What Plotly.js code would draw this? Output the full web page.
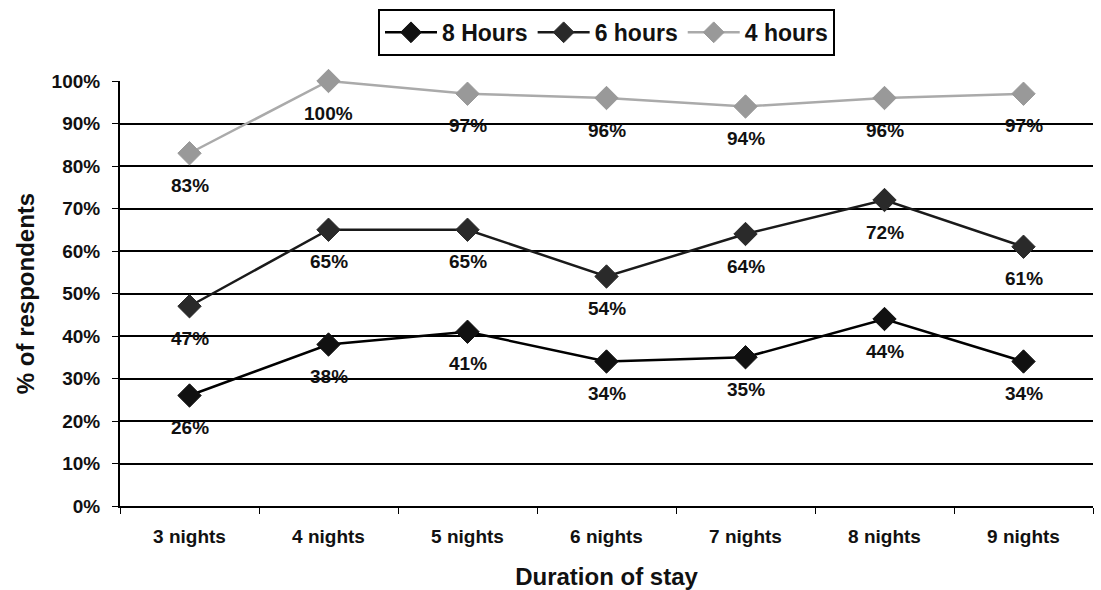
<!DOCTYPE html>
<html><head><meta charset="utf-8">
<script src="https://cdn.plot.ly/plotly-3.0.1.min.js"></script>
<style>body{margin:0;background:#fff}#chart{width:1101px;height:590px}</style>
</head><body><div id="chart"></div>
<script>
const categories = ["3 nights","4 nights","5 nights","6 nights","7 nights","8 nights","9 nights"];
const hours8 = [26,38,41,34,35,44,34];
const hours6 = [47,65,65,54,64,72,61];
const hours4 = [83,100,97,96,94,96,97];
const seriesNames = ["8 Hours","6 hours","4 hours"];
const yTickVals = [0,10,20,30,40,50,60,70,80,90,100];

const FONT = 'Liberation Sans, Arial, sans-serif';
function mk(name, vals, color, mcolor) {
  return {
    x: categories, y: vals, name: name, type: 'scatter', mode: 'lines+markers',
    line: {color: color, width: 2.5},
    marker: {symbol: 'diamond', size: 18, color: mcolor, line: {color: mcolor, width: 1}},
    cliponaxis: false
  };
}
const data = [
  mk(seriesNames[0], hours8, '#000', '#111'),
  mk(seriesNames[1], hours6, '#1a1a1a', '#2a2a2a'),
  mk(seriesNames[2], hours4, '#aaa', '#999')
];
const annotations = [];
[hours8, hours6, hours4].forEach(vals => {
  vals.forEach((v, i) => {
    annotations.push({x: categories[i], y: v, xref: 'x', yref: 'y', text: v + '%',
      showarrow: false, yshift: -32, font: {family: FONT, size: 19, weight: 'bold', color: '#111'}});
  });
});
const layout = {
  width: 1101, height: 590,
  margin: {l: 120, r: 8, t: 81, b: 84, autoexpand: false},
  paper_bgcolor: '#fff', plot_bgcolor: '#fff',
  font: {family: FONT, color: '#111', size: 15},
  showlegend: true,
  annotations: annotations,
  legend: {orientation: 'h', x: 0.5, xref: 'paper', xanchor: 'center', y: 0.985, yref: 'container', yanchor: 'top',
    bordercolor: '#000', borderwidth: 2, itemwidth: 52, font: {size: 23, weight: 'bold'}},
  xaxis: {
    type: 'category', showgrid: false, showline: true, linecolor: '#000', linewidth: 2,
    ticks: 'outside', tickson: 'boundaries', ticklen: 6, tickcolor: '#000',
    ticklabelstandoff: 12,
    tickfont: {size: 19, weight: 'bold'},
    title: {text: 'Duration of stay', font: {size: 24, weight: 'bold'}, standoff: 24},
    range: [-0.5, 6.5]
  },
  yaxis: {
    range: [0, 100], tickvals: yTickVals, ticktext: yTickVals.map(v => v + '%'),
    showgrid: true, gridcolor: '#000', gridwidth: 2, showline: true, linecolor: '#000', linewidth: 2,
    ticks: 'outside', ticklen: 6, tickcolor: '#000', zeroline: false,
    ticklabelstandoff: 8,
    tickfont: {size: 19, weight: 'bold'},
    title: {text: '% of respondents', font: {size: 24, weight: 'bold'}, standoff: 10}
  }
};
Plotly.newPlot('chart', data, layout, {displayModeBar: false});
</script></body></html>
